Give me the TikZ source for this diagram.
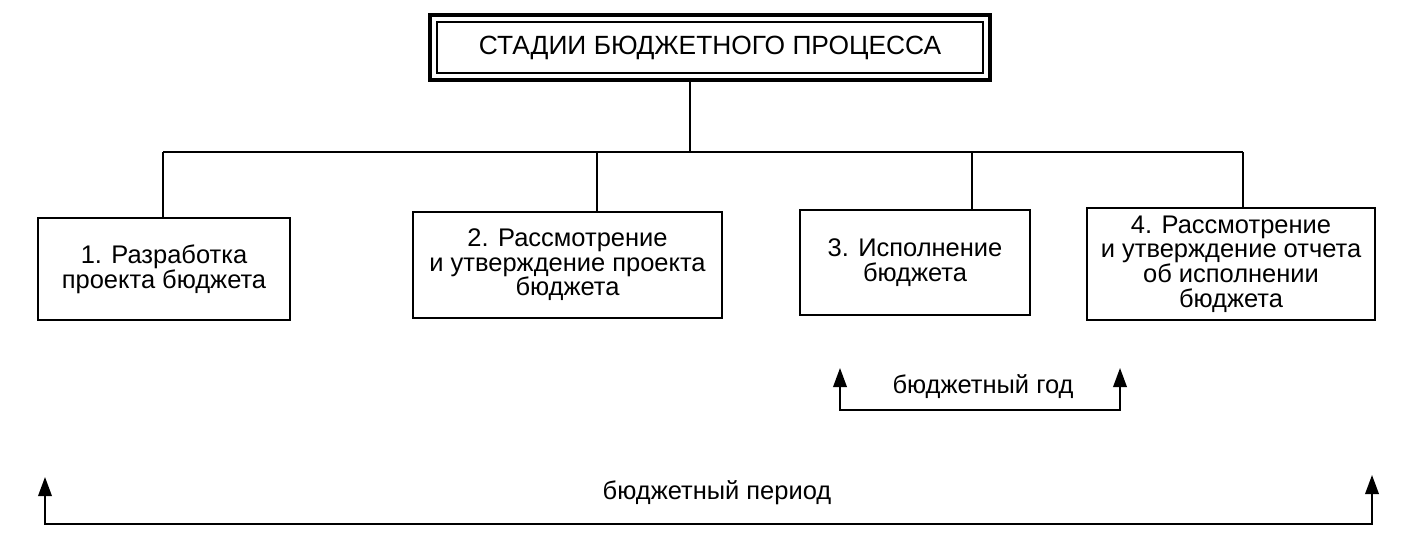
\documentclass[tikz,border=0pt]{standalone}
\usepackage{fontspec}
\setmainfont{Liberation Sans}
\usetikzlibrary{positioning, arrows.meta}

\begin{document}
\begin{tikzpicture}[x=0.02cm, y=-0.02cm, >={Triangle[length=0.38cm, width=0.27cm]},
    stage/.style={draw, line width=1.1pt, align=center, inner sep=0pt,
                  font=\fontsize{14.5}{14}\selectfont},
    lbl/.style={font=\fontsize{14.5}{14}\selectfont},
    link/.style={line width=1.1pt}]
  \useasboundingbox (0,0) rectangle (1426,548);
  % title with double frame
  \node[draw, line width=2.4pt, minimum width=11.2cm, minimum height=1.3cm,
        font=\fontsize{15}{15}\selectfont] (title) at (710,47.5)
        {СТАДИИ БЮДЖЕТНОГО ПРОЦЕССА};
  \node[draw, line width=1pt, minimum width=10.92cm, minimum height=1.02cm] (frame) at (title) {};
  % stages
  \node[stage, minimum width=5.04cm, minimum height=2.04cm] (s1) at (164,269)
        {1. Разработка\\проекта бюджета};
  \node[stage, minimum width=6.18cm, minimum height=2.12cm] (s2) at (567.5,265)
        {2. Рассмотрение\\и утверждение проекта\\бюджета};
  \node[stage, minimum width=4.6cm, minimum height=2.1cm] (s3) at (915,262.5)
        {3. Исполнение\\бюджета};
  \node[stage, minimum width=5.76cm, minimum height=2.24cm] (s4) at (1231,264)
        {4. Рассмотрение\\и утверждение отчета\\об исполнении\\бюджета};
  % tree
  \coordinate (fork) at (690,152);
  \coordinate (d1) at (163,152);
  \coordinate (d2) at (597,152);
  \coordinate (d3) at (972,152);
  \coordinate (d4) at (1243,152);
  \draw[link] (title.south -| fork) -- (fork);
  \draw[link] (d1) -- (d4);
  \draw[link] (d1) -- (d1 |- s1.north);
  \draw[link] (d2) -- (d2 |- s2.north);
  \draw[link] (d3) -- (d3 |- s3.north);
  \draw[link] (d4) -- (d4 |- s4.north);
  % budget year
  \coordinate (yeartop) at (840,368);
  \coordinate (yearend) at (1120,410);
  \draw[link, <->] (yeartop) |- (yearend) -- (1120,368);
  \node[lbl] (year) at (983,387) {бюджетный год};
  % budget period
  \coordinate (periodtop) at (45,477);
  \coordinate (periodend) at (1372,524);
  \draw[link, <->] (periodtop) |- (periodend) -- (1372,475);
  \node[lbl] (period) at (717,493) {бюджетный период};
\end{tikzpicture}
\end{document}
